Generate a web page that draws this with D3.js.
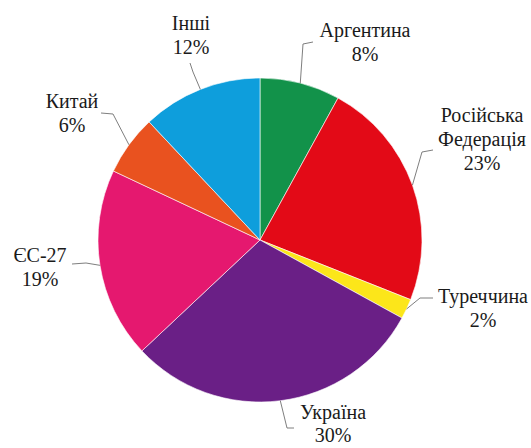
<!DOCTYPE html>
<html>
<head>
<meta charset="utf-8">
<script src="https://cdn.jsdelivr.net/npm/d3@7"></script>
<style>
  html, body { margin: 0; padding: 0; background: #fff; }
  svg { display: block; }
</style>
</head>
<body>
<svg id="chart" width="531" height="448"></svg>
<script>
// Shares, clockwise from 12 o'clock
const names  = ["Аргентина", "Російська Федерація", "Туреччина", "Україна", "ЄС-27", "Китай", "Інші"];
const lines  = [["Аргентина"], ["Російська", "Федерація"], ["Туреччина"], ["Україна"], ["ЄС-27"], ["Китай"], ["Інші"]];
const shares = [8, 23, 2, 30, 19, 6, 12];
const colors = ["#12924a", "#e30a17", "#fce61a", "#6a1f86", "#e5186f", "#e9521f", "#0e9edc"];

// Label placement: text centre x, first baseline y; leader elbow and end points
const labelAt = [[365, 37], [482, 122], [483, 303], [333, 419], [40, 262], [72, 108], [191, 30]];
const leaders = [
  [[303, 44], [313, 42]],
  [[422, 152], [433, 150]],
  [[420, 298], [433, 298]],
  [[287, 428], [294, 428]],
  [[86, 263], [72, 264]],
  [[113, 114], [101, 113]],
  [[193, 72], [190, 63]]
];

const fontStack = '"Liberation Serif", "Times New Roman", Tinos, "DejaVu Serif", "Noto Serif", Times, serif';
const cx = 260, cy = 240, r = 162;
const svg = d3.select("#chart");
const g = svg.append("g").attr("transform", `translate(${cx},${cy})`);

const pie = d3.pie().sort(null).value(d => d);
const arcs = pie(shares);
const arc = d3.arc().innerRadius(0).outerRadius(r);

g.selectAll("path.slice")
  .data(arcs)
  .join("path")
  .attr("class", "slice")
  .attr("d", arc)
  .attr("fill", (d, i) => colors[i])
  .attr("stroke", "#fff")
  .attr("stroke-width", 0.6);

// Leader lines from the rim at each slice's mid-angle
const line = d3.line().curve(d3.curveLinear);
svg.selectAll("path.leader")
  .data(arcs)
  .join("path")
  .attr("class", "leader")
  .attr("d", (d, i) => {
    const a = (d.startAngle + d.endAngle) / 2;
    const p0 = [cx + Math.sin(a) * r, cy - Math.cos(a) * r];
    return line([p0, ...leaders[i]]);
  })
  .attr("fill", "none")
  .attr("stroke", "#6f6f6f")
  .attr("stroke-width", 0.9);

// Labels: name lines then percentage
const labels = svg.selectAll("text.label")
  .data(arcs)
  .join("text")
  .attr("class", "label")
  .attr("text-anchor", "middle")
  .attr("font-family", fontStack)
  .attr("font-size", 20)
  .attr("fill", "#1a1a1a");

labels.each(function(d, i) {
  const t = d3.select(this);
  const [x, y] = labelAt[i];
  const rows = [...lines[i], d.data + "%"];
  const lineH = i === 3 ? 23 : 24;
  rows.forEach((s, k) => {
    t.append("tspan").attr("x", x).attr("y", y + k * lineH).text(s);
  });
});
</script>
</body>
</html>
